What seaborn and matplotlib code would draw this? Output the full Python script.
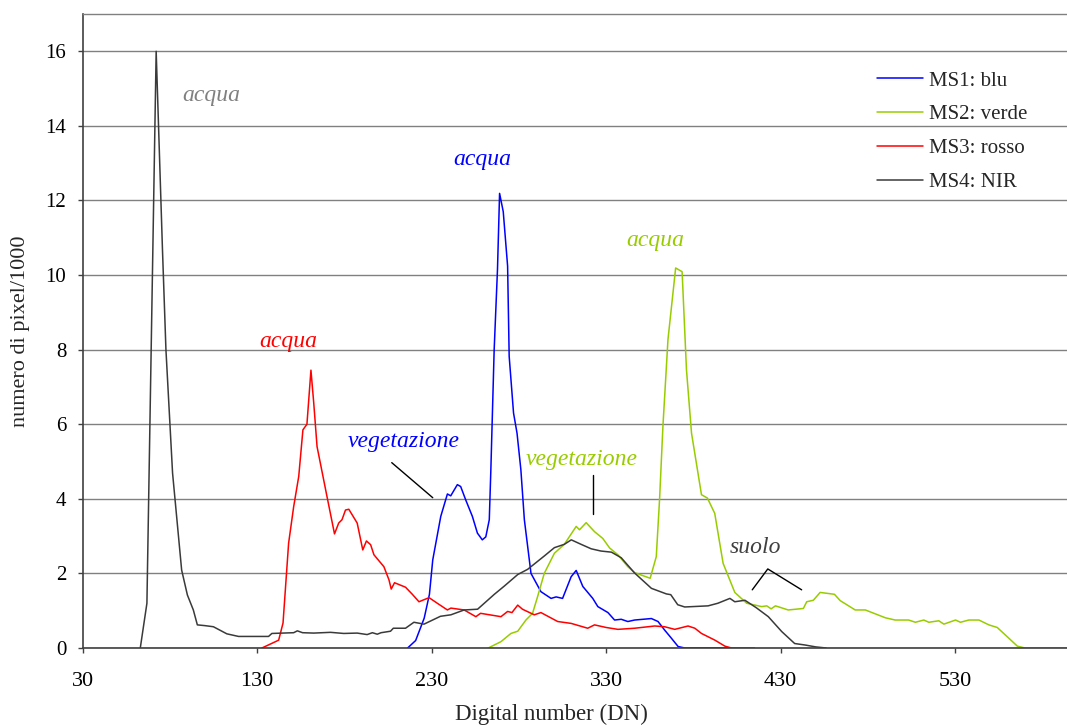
import matplotlib
matplotlib.use("Agg")
import matplotlib.pyplot as plt
import numpy as np
import pandas as pd
import seaborn as sns

# ---------------- data ----------------
bands = ["MS1: blu", "MS2: verde", "MS3: rosso", "MS4: NIR"]
band_colors = ["#0000FF", "#99CC00", "#FF0000", "#3A3A3A"]

ms1_dn = [216.2, 220.8, 225.7, 228.7, 230.6, 231.3, 235.2, 239, 240.9, 244.7, 246.6, 249.5,
          253.3, 256.2, 259, 261, 263, 263.9, 265.8, 267.7, 268.9, 271, 273.5, 274.4, 276.9,
          278.9, 281.1, 283.1, 286.9, 292.6, 298.4, 301.3, 305, 309.9, 312.8, 316.6, 322.3,
          325.2, 331, 334.8, 338.6, 342.4, 346.3, 355.9, 359.7, 363.5, 367.4, 371.2, 375, 401]
ms1_val = [0, 0.2, 0.8, 1.44, 2.36, 2.54, 3.53, 4.13, 4.08, 4.38, 4.33, 3.97,
           3.53, 3.08, 2.9, 2.98, 3.44, 4.78, 8.0, 10.15, 12.19, 11.7, 10.24, 7.82, 6.3,
           5.76, 4.78, 3.44, 2.0, 1.51, 1.33, 1.37, 1.33, 1.91, 2.08, 1.65, 1.33,
           1.11, 0.95, 0.75, 0.77, 0.71, 0.75, 0.79, 0.71, 0.48, 0.26, 0.04, 0, 0]

ms2_dn = [262.4, 269.7, 275.4, 279.3, 284, 287.8, 290.7, 294.5, 300.3, 306, 312.8, 314.7,
          318.5, 323.3, 328, 332, 336.7, 342.4, 346.3, 355.2, 358.7, 360.6, 362.5, 365.4,
          369.8, 373.5, 376, 378.9, 384.6, 388, 392.2, 397, 403.7, 410.5, 419.1, 422,
          424.5, 427, 434.3, 443, 444.9, 448.7, 452.6, 460.8, 464.1, 472.7, 478.5, 490,
          495.6, 503.3, 507.2, 512, 514.9, 520.6, 523.5, 530.2, 533, 537.8, 543.6, 549.3,
          554.1, 560.8, 565.6, 570, 600]
ms2_val = [0, 0.17, 0.39, 0.45, 0.75, 0.93, 1.38, 2.0, 2.54, 2.78, 3.26, 3.17,
           3.36, 3.12, 2.94, 2.68, 2.5, 2.18, 2.02, 1.87, 2.45, 4.0, 5.94, 8.27,
           10.19, 10.09, 7.46, 5.76, 4.11, 4.02, 3.61, 2.27, 1.49, 1.2, 1.11, 1.13,
           1.05, 1.13, 1.02, 1.06, 1.24, 1.28, 1.49, 1.44, 1.27, 1.02, 1.02, 0.81,
           0.75, 0.75, 0.69, 0.75, 0.69, 0.73, 0.64, 0.75, 0.69, 0.75, 0.75, 0.62,
           0.55, 0.26, 0.05, 0, 0]

ms3_dn = [132.7, 142.3, 144.8, 148, 150.9, 153.8, 156.2, 158.5, 160.8, 162.4, 164.3, 170,
          174.3, 176.7, 178.6, 180.6, 182.5, 187.3, 190.5, 192.6, 195, 196.9, 202.6, 205.5,
          206.8, 208.7, 215, 218.9, 222.7, 228.5, 233.2, 239, 241, 248.6, 255.3, 258,
          269.7, 273.5, 276, 279.3, 282, 288.8, 292.6, 302.2, 309.9, 319.4, 323.3, 330,
          336.7, 346.3, 357.8, 363.5, 369.3, 376.9, 380.8, 384.6, 392.3, 398, 401.8, 415]
ms3_val = [0, 0.21, 0.67, 2.81, 3.79, 4.6, 5.85, 6.0, 7.45, 6.57, 5.4, 4.06,
           3.06, 3.35, 3.44, 3.7, 3.72, 3.35, 2.63, 2.87, 2.77, 2.5, 2.18, 1.83,
           1.58, 1.75, 1.63, 1.44, 1.24, 1.35, 1.2, 1.02, 1.07, 1.02, 0.84, 0.93,
           0.84, 0.98, 0.95, 1.15, 1.04, 0.89, 0.95, 0.71, 0.66, 0.53, 0.62, 0.55,
           0.5, 0.53, 0.59, 0.57, 0.5, 0.59, 0.53, 0.39, 0.21, 0.05, 0, 0]

ms4_dn = [63, 66.8, 72.1, 75.7, 77.7, 81.5, 86.7, 90, 93.4, 95.7, 100, 104.9, 112.6, 119.3,
          136.5, 138.4, 150.9, 153, 156, 162.4, 172, 179.6, 187.3, 193, 196, 198.8, 201,
          206.4, 208, 215, 219.8, 225.6, 235, 241, 248.6, 256.3, 265.9, 271.6, 279.3, 285,
          294.6, 300.3, 306, 310, 315.6, 321.4, 327, 333, 338.6, 346.3, 355.9, 364.5, 367,
          371, 375, 388.4, 394, 400.9, 403.7, 409.5, 416, 422.9, 430.6, 438, 444, 450, 456]
ms4_val = [0, 1.2, 16.0, 10.7, 8.0, 4.69, 2.09, 1.42, 1.02, 0.62, 0.6, 0.57, 0.38, 0.31,
           0.31, 0.39, 0.41, 0.46, 0.41, 0.40, 0.42, 0.39, 0.40, 0.36, 0.41, 0.37, 0.41,
           0.45, 0.53, 0.53, 0.69, 0.64, 0.85, 0.89, 1.02, 1.04, 1.44, 1.66, 1.97, 2.11,
           2.47, 2.69, 2.78, 2.9, 2.78, 2.66, 2.6, 2.57, 2.42, 2.01, 1.6, 1.45, 1.43,
           1.16, 1.1, 1.13, 1.2, 1.33, 1.24, 1.28, 1.08, 0.84, 0.44, 0.12, 0.08, 0.03, 0.0]

x_ticks = [30, 130, 230, 330, 430, 530]
y_ticks = [0, 2, 4, 6, 8, 10, 12, 14, 16]

# annotations: (text, DN, value, colour)
notes = [("acqua", 103.5, 14.68, "#808080"),
         ("acqua", 147.6, 8.08, "#FF0000"),
         ("acqua", 258.9, 12.94, "#0000FF"),
         ("acqua", 358.4, 10.79, "#99CC00"),
         ("vegetazione", 213.8, 5.38, "#0000FF"),
         ("vegetazione", 316.2, 4.91, "#99CC00"),
         ("suolo", 415.5, 2.54, "#404040")]
leaders = [([207.1, 230.6], [4.97, 4.03]),
           ([322.6, 322.6], [4.64, 3.59]),
           ([413.7, 422.6, 442.0], [1.56, 2.12, 1.56])]

# ---------------- table ----------------
frames = []
for name, xs, ys in zip(bands, [ms1_dn, ms2_dn, ms3_dn, ms4_dn],
                        [ms1_val, ms2_val, ms3_val, ms4_val]):
    frames.append(pd.DataFrame({"DN": xs, "val": ys, "banda": name}))
df = pd.concat(frames, ignore_index=True)

# ---------------- plot ----------------
sns.set_style("white")
plt.rcParams['font.family'] = ['Liberation Serif', 'DejaVu Serif']

W, H = 1067, 726
fig = plt.figure(figsize=(W / 100, H / 100), dpi=100)
x0, y0 = 82.7, 648.0
ax = fig.add_axes([x0 / W, (H - y0) / H, 1 - x0 / W, (y0 - 14) / H])

sns.lineplot(data=df, x="DN", y="val", hue="banda", hue_order=bands,
             palette=dict(zip(bands, band_colors)), estimator=None, sort=False,
             linewidth=1.1, ax=ax)

ax.set_xlim(30, 30 + (W - x0) / 1.745)
ax.set_ylim(0, 17)
ax.set_xticks(x_ticks)
ax.set_yticks(y_ticks)
ax.yaxis.grid(True, color="#808080", linewidth=1.0)
ax.xaxis.grid(False)
ax.set_axisbelow(True)

for side in ["left", "bottom"]:
    ax.spines[side].set_color("#404040")
    ax.spines[side].set_linewidth(1.2)
ax.spines["top"].set_color("#808080")
ax.spines["top"].set_linewidth(1.0)
ax.spines["right"].set_visible(False)

ax.tick_params(axis="both", direction="out", length=3.8, width=1, color="#404040",
               labelcolor="black")
ax.tick_params(axis="x", pad=13.5, bottom=True, labelsize=16)
ax.tick_params(axis="y", pad=8, left=True, labelsize=15)

ax.set_xlabel("Digital number (DN)", fontsize=16.5)
ax.set_ylabel("numero di pixel/1000", fontsize=16)
ax.xaxis.set_label_coords((551 - x0) / (W - x0), (y0 - 704) / (y0 - 14))
ax.yaxis.set_label_coords((30 - x0) / (W - x0), 0.5)

for txt, xv, yv, col in notes:
    ax.text(xv, yv, txt, color=col, fontsize=17, style="italic",
            ha="center", va="baseline")
for xs, ys in leaders:
    ax.plot(xs, ys, color="black", linewidth=1.0)

handles, labels = ax.get_legend_handles_labels()
ax.legend(handles, labels, loc="upper left",
          bbox_to_anchor=(876.7 / W, 1 - 71 / H), bbox_transform=fig.transFigure,
          frameon=False, borderpad=0, borderaxespad=0, fontsize=15,
          handlelength=2.2, handletextpad=0.3, labelspacing=0.68)

fig.savefig("out.png", dpi=100)
